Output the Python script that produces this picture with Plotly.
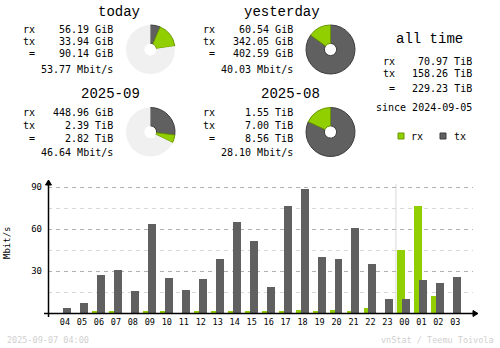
import plotly.graph_objects as go

# ---- data ----
hours = ["04","05","06","07","08","09","10","11","12","13","14","15",
         "16","17","18","19","20","21","22","23","00","01","02","03"]
rx_mbit = [0.0,0.0,1.0,1.0,0.0,1.7,1.7,0.0,1.0,1.0,1.7,1.0,
           1.0,1.7,2.4,1.0,2.4,1.0,3.8,0.0,45.2,76.7,12.4,0.0]
tx_mbit = [3.8,7.4,27.4,31.0,16.0,63.8,25.2,16.7,24.5,38.8,65.2,51.7,
           18.8,76.7,88.8,40.2,38.8,61.0,35.2,10.2,10.2,23.8,21.7,26.0]

today_vals = ["56.19 GiB", "33.94 GiB", "90.14 GiB", "53.77 Mbit/s"]
yesterday_vals = ["60.54 GiB", "342.05 GiB", "402.59 GiB", "40.03 Mbit/s"]
month_vals = ["448.96 GiB", "2.39 TiB", "2.82 TiB", "46.64 Mbit/s"]
prevmonth_vals = ["1.55 TiB", "7.00 TiB", "8.56 TiB", "28.10 Mbit/s"]
alltime_vals = ["70.97 TiB", "158.26 TiB", "229.23 TiB"]

# donut slices: [tx, rx, remaining]
pie_today = [23, 59, 278]
pie_yesterday = [342.05, 60.54, 0]
pie_month = [97, 19, 244]
pie_prevmonth = [7.00, 1.55, 0]

RX = "#92CF00"
TX = "#606060"
RXD = "#6A9600"
TXD = "#3C3C3C"
PIEBG = "#F0F0F0"

W, H = 500, 348
def px(x): return x / W
def py(y): return 1 - y / H

fig = go.Figure()

def donut(vals, cx, cy, r=24.5):
    fig.add_trace(go.Pie(
        values=vals, sort=False, direction="clockwise", rotation=0,
        hole=0.25, textinfo="none", hoverinfo="skip", showlegend=False,
        domain=dict(x=[px(cx - r), px(cx + r)], y=[py(cy + r), py(cy - r)]),
        marker=dict(colors=[TX, RX, PIEBG],
                    line=dict(color=[TXD, RXD, PIEBG], width=[1, 1, 0]))))

donut(pie_today, 150.5, 49.5)
donut(pie_yesterday, 330.5, 49.5)
donut(pie_month, 150.5, 132)
donut(pie_prevmonth, 330.5, 132)

# ---- bars ----
fig.add_trace(go.Bar(x=hours, y=rx_mbit, offset=-0.41, width=0.47,
                     marker=dict(color=RX, line=dict(width=0)),
                     showlegend=False, hoverinfo="skip"))
fig.add_trace(go.Bar(x=hours, y=tx_mbit, offset=-0.12, width=0.47,
                     marker=dict(color=TX, line=dict(width=0)),
                     showlegend=False, hoverinfo="skip"))

MONO = "DejaVu Sans Mono"
TITLEF = "Liberation Mono"
ann = []
def txt(s, x, y, size=10, anchor="right", color="black", family=MONO):
    ann.append(dict(text=s, x=px(x), y=py(y), xref="paper", yref="paper",
                    xanchor=anchor, yanchor="middle", showarrow=False,
                    font=dict(family=family, size=size, color=color)))

def block(title, vals, tx_right, lab_right, val_right, ytitle, yrows):
    txt(title, tx_right, ytitle, size=14, family=TITLEF)
    for lab, v, yy in zip(["rx", "tx", "="], vals[:3], yrows[:3]):
        txt(lab, lab_right, yy)
        txt(v, val_right, yy)
    if len(vals) > 3:
        txt(vals[3], val_right, yrows[3])

block("today", today_vals, 142, 37, 115, 12, [29, 41, 54, 69])
block("2025-09", month_vals, 142, 37, 115, 94, [112, 125, 138, 152])
block("yesterday", yesterday_vals, 322, 217, 295, 12, [29, 41, 54, 69])
block("2025-08", prevmonth_vals, 322, 217, 295, 94, [112, 125, 138, 152])

txt("all time", 429, 39, size=14, anchor="center", family=TITLEF)
for lab, v, yy in zip(["rx", "tx", "="], alltime_vals, [62, 73, 88]):
    txt(lab, 397, yy)
    txt(v, 474, yy)
txt("since 2024-09-05", 474, 108)
txt("rx", 409, 136, anchor="left")
txt("tx", 452, 136, anchor="left")

txt("Mbit/s", 14, 243, size=9)
ann[-1]["textangle"] = -90

txt("2025-09-07 04:00", 5, 340, size=8.5, anchor="left", color="#D0D0D0")
txt("vnStat / Teemu Toivola", 496, 340, size=8.5, anchor="right", color="#D0D0D0")

shapes = [
    # legend squares
    dict(type="rect", xref="paper", yref="paper", x0=px(398), x1=px(404),
         y0=py(139), y1=py(133), fillcolor=RX, line=dict(color=RXD, width=1)),
    dict(type="rect", xref="paper", yref="paper", x0=px(440), x1=px(446),
         y0=py(139), y1=py(133), fillcolor=TX, line=dict(color=TXD, width=1)),
    # day separator between 23 and 00
    dict(type="line", xref="x", yref="paper", x0=19.5, x1=19.5,
         y0=py(313), y1=py(184), line=dict(color="#D8D8D8", width=1), layer="below"),
    # axes
    dict(type="line", xref="paper", yref="paper", x0=px(44), x1=px(475),
         y0=py(313.5), y1=py(313.5), line=dict(color="black", width=1.5)),
    dict(type="line", xref="paper", yref="paper", x0=px(48.5), x1=px(48.5),
         y0=py(317), y1=py(183), line=dict(color="black", width=1.5)),
    dict(type="path", xref="paper", yref="paper",
         path=f"M {px(473)} {py(310.5)} L {px(478)} {py(313.5)} L {px(473)} {py(316.5)} Z",
         fillcolor="black", line=dict(color="black", width=1)),
    dict(type="path", xref="paper", yref="paper",
         path=f"M {px(45.5)} {py(185)} L {px(48.5)} {py(180)} L {px(51.5)} {py(185)} Z",
         fillcolor="black", line=dict(color="black", width=1)),
]

fig.update_layout(
    width=W, height=H, margin=dict(l=0, r=0, t=0, b=0),
    paper_bgcolor="white", plot_bgcolor="white",
    barmode="overlay", bargap=0,
    annotations=ann, shapes=shapes,
    xaxis=dict(domain=[px(48), px(473)], range=[-1.0, 24.04],
               type="category", showgrid=False, zeroline=False, showline=False,
               ticks="", tickfont=dict(family=MONO, size=8.5, color="black"),
               ticklabelstandoff=2, fixedrange=True),
    yaxis=dict(domain=[py(313), py(180)], range=[0, 95],
               tickvals=[30, 60, 90], ticks="", showline=False, zeroline=False,
               gridcolor="#B0B0B0", griddash="4px,4px", gridwidth=1,
               tickfont=dict(family=MONO, size=9, color="black"),
               ticklabelstandoff=5,
               minor=dict(tickmode="array", tickvals=[15, 45, 75], showgrid=True,
                          gridcolor="#D8D8D8", griddash="4px,4px", gridwidth=1),
               fixedrange=True),
)

fig.write_html("out.html")
